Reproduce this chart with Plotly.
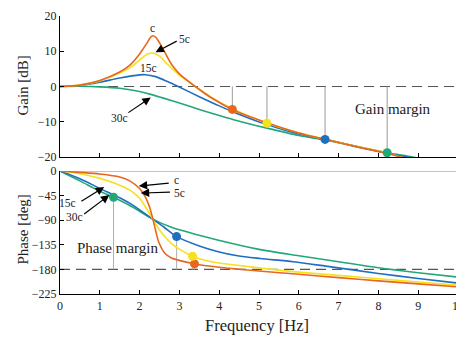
import plotly.graph_objects as go
from plotly.subplots import make_subplots

# ---------------- data ----------------
series_names = ["c", "5c", "15c", "30c"]
colors = ["#E8661F", "#F6E11E", "#1F6FC0", "#22A878"]

# Gain curves (frequency [Hz], gain [dB])
gain_f_c = [0, 0.5, 1.0, 1.5, 1.75, 2.0, 2.1, 2.2, 2.27, 2.33, 2.4, 2.5, 2.6, 2.8, 3.0, 3.4, 3.8, 4.33, 5.2, 6.0, 6.66, 7.5, 8.2, 8.55, 9.0]
gain_c = [0, 0.4, 1.7, 4.1, 6.0, 9.2, 10.9, 12.6, 13.9, 14.4, 14.0, 12.4, 10.4, 6.3, 3.6, 0, -3.2, -6.5, -10.3, -13.2, -15.0, -17.2, -18.9, -20.0, -21.2]

gain_f_5c = [0, 0.5, 1.0, 1.5, 1.75, 2.0, 2.2, 2.33, 2.5, 2.7, 3.0, 3.4, 3.8, 4.33, 5.2, 6.0, 6.66, 7.5, 8.2, 8.55, 9.0]
gain_5c = [0, 0.4, 1.6, 3.8, 5.3, 7.5, 9.2, 9.5, 8.6, 6.3, 3.2, 0, -3.0, -6.3, -10.4, -13.1, -15.0, -17.1, -18.8, -20.0, -21.2]

gain_f_15c = [0, 0.5, 1.0, 1.5, 2.0, 2.15, 2.4, 2.7, 2.97, 3.5, 4.0, 4.46, 5.2, 6.0, 6.66, 7.5, 8.2, 8.7, 9.2]
gain_15c = [0, 0.3, 1.2, 2.4, 3.3, 3.35, 2.8, 1.4, 0, -2.9, -5.5, -7.7, -10.8, -13.5, -15.0, -17.2, -18.9, -20.0, -21.2]

gain_f_30c = [0, 0.5, 1.0, 1.5, 2.0, 2.3, 2.6, 3.0, 3.5, 4.0, 4.46, 5.2, 6.0, 6.66, 7.5, 8.22, 8.85, 9.3]
gain_30c = [0, 0.05, -0.1, -0.5, -1.4, -2.3, -3.3, -4.7, -6.5, -8.2, -9.7, -11.8, -13.9, -15.2, -17.1, -18.8, -20.0, -21.0]

# Phase curves (frequency [Hz], phase [deg])
phase_f_c = [0, 0.5, 1.0, 1.5, 1.75, 2.0, 2.14, 2.25, 2.33, 2.4, 2.48, 2.64, 2.8, 2.97, 3.4, 4.0, 4.33, 5.0, 6.0, 7.0, 8.0, 9.0, 10.0]
phase_c = [0, -2.5, -5.5, -11, -18, -32, -47, -66, -87, -108, -130, -151, -159, -163, -170, -176, -178.5, -183, -189, -195, -201, -206.5, -212]

phase_f_5c = [0, 0.5, 1.0, 1.5, 1.82, 2.0, 2.14, 2.33, 2.5, 2.64, 2.8, 3.0, 3.33, 3.8, 4.46, 5.2, 6.0, 7.0, 8.0, 9.0, 10.0]
phase_5c = [0, -5, -13.5, -26, -38, -50, -65, -88, -108, -120.5, -133, -143, -156, -166, -172.5, -179, -185, -191, -197, -203, -209]

phase_f_15c = [0, 0.5, 1.0, 1.5, 1.82, 2.0, 2.33, 2.6, 2.93, 3.5, 4.0, 4.46, 5.03, 5.86, 6.68, 8.0, 9.0, 10.0]
phase_15c = [0, -14, -31.8, -49, -62, -71, -88, -102, -120, -137, -148, -155, -160, -166, -174, -187.5, -196.5, -205]

phase_f_30c = [0, 0.5, 1.0, 1.345, 1.8, 2.33, 2.8, 3.47, 4.46, 5.03, 6.0, 7.0, 8.0, 9.0, 10.0]
phase_30c = [0, -18, -37, -48, -65, -88, -103, -117, -135, -143.8, -155, -166, -177, -186, -194]

# Gain margin points (phase crossover frequency, gain)
gm_freq = [4.33, 5.2, 6.66, 8.22]
gm_gain = [-6.5, -10.4, -15.0, -18.8]
# Phase margin points (gain crossover frequency, phase)
pm_freq = [3.38, 3.33, 2.93, 1.345]
pm_phase = [-170, -156, -120, -48]

gain_ref = 0
phase_ref = -180
gain_ticks = [-20, -10, 0, 10, 20]
phase_ticks = [0, -45, -90, -135, -180, -225]
freq_ticks = list(range(0, 11))

gain_f = [gain_f_c, gain_f_5c, gain_f_15c, gain_f_30c]
gain_v = [gain_c, gain_5c, gain_15c, gain_30c]
phase_f = [phase_f_c, phase_f_5c, phase_f_15c, phase_f_30c]
phase_v = [phase_c, phase_5c, phase_15c, phase_30c]

FONT = "Liberation Serif"

fig = make_subplots(rows=2, cols=1, shared_xaxes=False, vertical_spacing=0.05)

# reference dashed lines
for row, ref in [(1, gain_ref), (2, phase_ref)]:
    fig.add_trace(go.Scatter(x=[0, 10], y=[ref, ref], mode="lines",
                             line=dict(color="#555555", width=1.1, dash="10px,6px"),
                             hoverinfo="skip", showlegend=False), row=row, col=1)

# margin drop lines
for i in range(4):
    fig.add_trace(go.Scatter(x=[gm_freq[i], gm_freq[i]], y=[gain_ref, gm_gain[i]], mode="lines",
                             line=dict(color="#9a9a9a", width=1), showlegend=False), row=1, col=1)
    fig.add_trace(go.Scatter(x=[pm_freq[i], pm_freq[i]], y=[phase_ref, pm_phase[i]], mode="lines",
                             line=dict(color="#b0b0b0", width=1), showlegend=False), row=2, col=1)

# curves (draw 30c first so orange is on top)
for i in [3, 2, 1, 0]:
    fig.add_trace(go.Scatter(x=gain_f[i], y=gain_v[i], mode="lines", name=series_names[i],
                             line=dict(color=colors[i], width=1.6, shape="spline", smoothing=0.8),
                             showlegend=False), row=1, col=1)
    fig.add_trace(go.Scatter(x=phase_f[i], y=phase_v[i], mode="lines", name=series_names[i],
                             line=dict(color=colors[i], width=1.6, shape="spline", smoothing=0.8),
                             showlegend=False), row=2, col=1)

# markers
for i in range(4):
    fig.add_trace(go.Scatter(x=[gm_freq[i]], y=[gm_gain[i]], mode="markers",
                             marker=dict(color=colors[i], size=9), showlegend=False,
                             cliponaxis=False), row=1, col=1)
    fig.add_trace(go.Scatter(x=[pm_freq[i]], y=[pm_phase[i]], mode="markers",
                             marker=dict(color=colors[i], size=9), showlegend=False,
                             cliponaxis=False), row=2, col=1)

axis_common = dict(showline=True, linecolor="black", linewidth=1.3, ticks="inside",
                   ticklen=4, tickcolor="black", tickwidth=1.2, showgrid=False, zeroline=False,
                   tickfont=dict(family=FONT, size=12, color="#222"))

fig.update_xaxes(range=[0, 10], tickvals=freq_ticks, ticklabeloverflow="allow", **axis_common)
fig.update_xaxes(showticklabels=False, row=1, col=1)
fig.update_xaxes(row=1, col=1, tickvals=freq_ticks[1:-1])
fig.update_yaxes(**axis_common)
fig.update_yaxes(range=[-20, 20], tickvals=gain_ticks, row=1, col=1)
fig.update_yaxes(range=[-225, 0], tickvals=phase_ticks, row=2, col=1)

# top gray border line of the phase plot
fig.add_shape(type="line", xref="x2", yref="y2", x0=0, x1=10, y0=0, y1=0,
              line=dict(color="#888888", width=1))

fig.layout.yaxis.domain = [0.4928, 1.0]
fig.layout.yaxis2.domain = [0.0, 0.4424]

ann = []
lab = dict(family=FONT, size=11.5, color="#222")
# text labels
ann += [
    dict(x=2.33, y=16.6, xref="x", yref="y", text="c", showarrow=False, font=lab),
    dict(x=3.12, y=13.4, xref="x", yref="y", text="5c", showarrow=False, font=lab),
    dict(x=2.23, y=5.2, xref="x", yref="y", text="15c", showarrow=False, font=lab),
    dict(x=1.5, y=-8.9, xref="x", yref="y", text="30c", showarrow=False, font=lab),
    dict(x=2.92, y=-16, xref="x2", yref="y2", text="c", showarrow=False, font=lab),
    dict(x=3.0, y=-40, xref="x2", yref="y2", text="5c", showarrow=False, font=lab),
    dict(x=0.2, y=-59, xref="x2", yref="y2", text="15c", showarrow=False, font=lab),
    dict(x=0.36, y=-84, xref="x2", yref="y2", text="30c", showarrow=False, font=lab),
    dict(x=8.37, y=-6.3, xref="x", yref="y", text="Gain margin", showarrow=False,
         font=dict(family=FONT, size=15, color="#222")),
    dict(x=1.45, y=-141, xref="x2", yref="y2", text="Phase margin", showarrow=False,
         font=dict(family=FONT, size=15, color="#222")),
]
# arrows (tail -> head)
arrows = [
    ("x", "y", 2.97, 13.1, 2.40, 9.7),
    ("x", "y", 1.68, -7.7, 2.28, -3.1),
    ("x2", "y2", 2.77, -22, 1.98, -27.5),
    ("x2", "y2", 2.8, -38.5, 2.03, -40.4),
    ("x2", "y2", 0.5, -57, 1.11, -29.4),
    ("x2", "y2", 0.57, -80.7, 1.24, -44),
]
for xr, yr, ax, ay, hx, hy in arrows:
    ann.append(dict(x=hx, y=hy, ax=ax, ay=ay, xref=xr, yref=yr, axref=xr, ayref=yr,
                    text="", showarrow=True, arrowhead=2, arrowsize=1.4, arrowwidth=1.2,
                    arrowcolor="black", standoff=0, startstandoff=0))
# axis titles
title_font = dict(family=FONT, size=15, color="#222")
ann += [
    dict(x=-0.094, y=(294 - 86) / 278, xref="paper", yref="paper", text="Gain [dB]",
         textangle=-90, showarrow=False, font=title_font, xanchor="center", yanchor="middle"),
    dict(x=-0.094, y=(294 - 230) / 278, xref="paper", yref="paper", text="Phase [deg]",
         textangle=-90, showarrow=False, font=title_font, xanchor="center", yanchor="middle"),
    dict(x=0.495, y=(294 - 325) / 278, xref="paper", yref="paper", text="Frequency [Hz]",
         showarrow=False, font=dict(family=FONT, size=16.5, color="#222"),
         xanchor="center", yanchor="middle"),
]

# page is shown with an 8px body margin, so the figure is 8px smaller and margins shifted
fig.update_layout(width=456, height=330, margin=dict(l=52, r=0, t=8, b=44),
                  paper_bgcolor="white", plot_bgcolor="white", annotations=ann,
                  showlegend=False)

fig.write_html("out.html")
